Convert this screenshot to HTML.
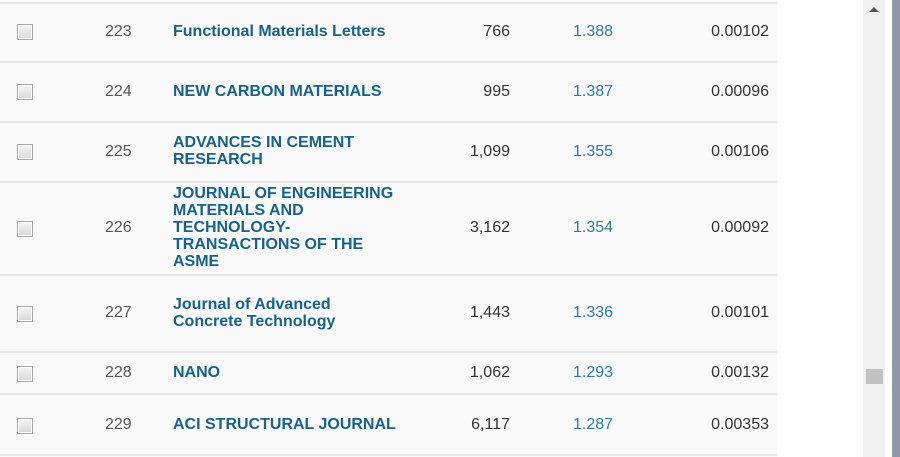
<!DOCTYPE html>
<html><head><style>
body{margin:0;width:900px;height:457px;background:#fff;position:relative;overflow:hidden;font-family:"Liberation Sans",Arial,sans-serif;}
.tbl{position:absolute;left:0;top:0;width:777px;height:457px;background:#f9f9f9;}
.line{position:absolute;left:0;width:777px;height:2px;background:#e6e6e6;}
.row{position:absolute;left:0;width:777px;}
.cb{position:absolute;left:17px;width:14px;height:14px;border:1px solid #a8a8a8;background:linear-gradient(#f4f4f4,#d8d8d8);box-shadow:inset 0 0 0 1px #fff;}
.t{position:absolute;font-size:16px;line-height:17px;}
.n{left:105px;color:#555;}
.nm{left:173px;color:#16628f;font-weight:bold;width:240px;}
.c{right:267px;color:#333;text-align:right;}
.j{left:573px;color:#2a7ab0;}
.e{right:8px;color:#333;}
.sb{position:absolute;left:863px;top:0;width:22px;height:457px;background:#f0f0f0;}
.side{position:absolute;left:892px;top:0;width:8px;height:457px;background:#8d99a6;}
</style></head><body>
<div class="tbl">
<div class="line" style="top:2px"></div>
<div class="line" style="top:61px"></div>
<div class="line" style="top:121px"></div>
<div class="line" style="top:181px"></div>
<div class="line" style="top:274px"></div>
<div class="line" style="top:351px"></div>
<div class="line" style="top:393px"></div>
<div class="line" style="top:454px"></div>

<div class="cb" style="top:24px"></div><div class="t n" style="top:23px">223</div><div class="t nm" style="top:23px">Functional Materials Letters</div><div class="t c" style="top:23px">766</div><div class="t j" style="top:23px">1.388</div><div class="t e" style="top:23px">0.00102</div>

<div class="cb" style="top:84px"></div><div class="t n" style="top:83px">224</div><div class="t nm" style="top:83px">NEW CARBON MATERIALS</div><div class="t c" style="top:83px">995</div><div class="t j" style="top:83px">1.387</div><div class="t e" style="top:83px">0.00096</div>

<div class="cb" style="top:144px"></div><div class="t n" style="top:143px">225</div><div class="t nm" style="top:134px">ADVANCES IN CEMENT<br>RESEARCH</div><div class="t c" style="top:143px">1,099</div><div class="t j" style="top:143px">1.355</div><div class="t e" style="top:143px">0.00106</div>

<div class="cb" style="top:221px"></div><div class="t n" style="top:219px">226</div><div class="t nm" style="top:185px">JOURNAL OF ENGINEERING<br>MATERIALS AND<br>TECHNOLOGY-<br>TRANSACTIONS OF THE<br>ASME</div><div class="t c" style="top:219px">3,162</div><div class="t j" style="top:219px">1.354</div><div class="t e" style="top:219px">0.00092</div>

<div class="cb" style="top:306px"></div><div class="t n" style="top:304px">227</div><div class="t nm" style="top:296px">Journal of Advanced<br>Concrete Technology</div><div class="t c" style="top:304px">1,443</div><div class="t j" style="top:304px">1.336</div><div class="t e" style="top:304px">0.00101</div>

<div class="cb" style="top:366px"></div><div class="t n" style="top:364px">228</div><div class="t nm" style="top:364px">NANO</div><div class="t c" style="top:364px">1,062</div><div class="t j" style="top:364px">1.293</div><div class="t e" style="top:364px">0.00132</div>

<div class="cb" style="top:418px"></div><div class="t n" style="top:416px">229</div><div class="t nm" style="top:416px">ACI STRUCTURAL JOURNAL</div><div class="t c" style="top:416px">6,117</div><div class="t j" style="top:416px">1.287</div><div class="t e" style="top:416px">0.00353</div>
</div>
<div class="sb">
<div style="position:absolute;left:6px;top:7px;width:0;height:0;border-left:5px solid transparent;border-right:5px solid transparent;border-bottom:5px solid #555;"></div>
<div style="position:absolute;left:3px;top:369px;width:17px;height:15px;background:#c1c1c1;"></div>
</div>
<div class="side"></div>
</body></html>
